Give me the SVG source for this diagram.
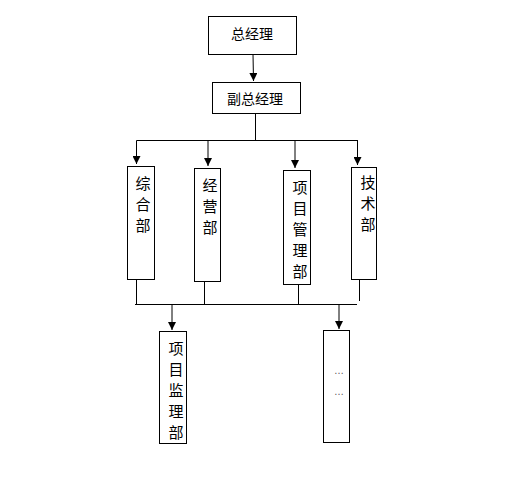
<svg xmlns="http://www.w3.org/2000/svg" width="532" height="478" viewBox="0 0 532 478">
<defs>
<style>
.box{fill:#fff;stroke:#000;stroke-width:1}
.ln{fill:none;stroke:#000;stroke-width:1}
.t{font-family:"Noto Sans CJK SC","Liberation Sans",sans-serif;font-size:14px;fill:#000;text-anchor:middle;dominant-baseline:central}
.v{font-size:15px}
.d{font-family:"Liberation Sans",sans-serif;font-size:10px;fill:#555;text-anchor:middle}
</style>
<marker id="ah" viewBox="0 0 10 10" refX="10" refY="5" markerWidth="8" markerHeight="8" markerUnits="userSpaceOnUse" orient="auto">
<path d="M0,0 L10,5 L0,10 z" fill="#000"/>
</marker>
</defs>
<rect width="532" height="478" fill="#fff"/>
<g id="connectors">
<line class="ln" x1="253" y1="54" x2="253.5" y2="81" marker-end="url(#ah)"/>
<line class="ln" x1="255.5" y1="113" x2="255.5" y2="140.5"/>
<line class="ln" x1="136.5" y1="140.5" x2="358" y2="140.5"/>
<line class="ln" x1="136.5" y1="140.5" x2="136.5" y2="164" marker-end="url(#ah)"/>
<line class="ln" x1="208" y1="140.5" x2="208" y2="166" marker-end="url(#ah)"/>
<line class="ln" x1="295" y1="140.5" x2="295" y2="168" marker-end="url(#ah)"/>
<line class="ln" x1="357.5" y1="140.5" x2="357.5" y2="165" marker-end="url(#ah)"/>
<line class="ln" x1="136.5" y1="279" x2="136.5" y2="304.5"/>
<line class="ln" x1="204.5" y1="281" x2="204.5" y2="304.5"/>
<line class="ln" x1="298.5" y1="284" x2="298.5" y2="304.5"/>
<line class="ln" x1="359.5" y1="279" x2="359.5" y2="301"/>
<line class="ln" x1="135" y1="304.5" x2="357" y2="304.5"/>
<line class="ln" x1="172" y1="304.5" x2="172" y2="330" marker-end="url(#ah)"/>
<line class="ln" x1="339" y1="304.5" x2="339" y2="329" marker-end="url(#ah)"/>
</g>
<g id="n1">
<rect class="box" x="208.5" y="16.5" width="88" height="38"/>
<text class="t" x="252" y="33">总经理</text>
</g>
<g id="n2">
<rect class="box" x="212.5" y="82.5" width="88" height="31"/>
<text class="t" x="255" y="98">副总经理</text>
</g>
<g id="n3">
<rect class="box" x="127.5" y="166.5" width="27" height="113"/>
<text class="t v" x="143"><tspan x="143" y="182">综</tspan><tspan x="143" y="203">合</tspan><tspan x="143" y="224">部</tspan></text>
</g>
<g id="n4">
<rect class="box" x="194.5" y="168.5" width="26" height="113"/>
<text class="t v" x="210"><tspan x="210" y="184">经</tspan><tspan x="210" y="205">营</tspan><tspan x="210" y="226">部</tspan></text>
</g>
<g id="n5">
<rect class="box" x="283.5" y="170.5" width="27" height="114"/>
<text class="t v" x="300"><tspan x="300" y="186">项</tspan><tspan x="300" y="207">目</tspan><tspan x="300" y="228">管</tspan><tspan x="300" y="249">理</tspan><tspan x="300" y="270">部</tspan></text>
</g>
<g id="n6">
<rect class="box" x="351.5" y="167.5" width="25" height="112"/>
<text class="t v" x="368"><tspan x="368" y="181">技</tspan><tspan x="368" y="202">术</tspan><tspan x="368" y="223">部</tspan></text>
</g>
<g id="n7">
<rect class="box" x="159.5" y="331.5" width="27" height="112"/>
<text class="t v" x="176"><tspan x="176" y="347">项</tspan><tspan x="176" y="368">目</tspan><tspan x="176" y="389">监</tspan><tspan x="176" y="410">理</tspan><tspan x="176" y="431">部</tspan></text>
</g>
<g id="n8">
<rect class="box" x="323.5" y="330.5" width="26" height="112"/>
<text class="d" x="339" y="374">…</text>
<text class="d" x="339" y="395">…</text>
</g>
</svg>
